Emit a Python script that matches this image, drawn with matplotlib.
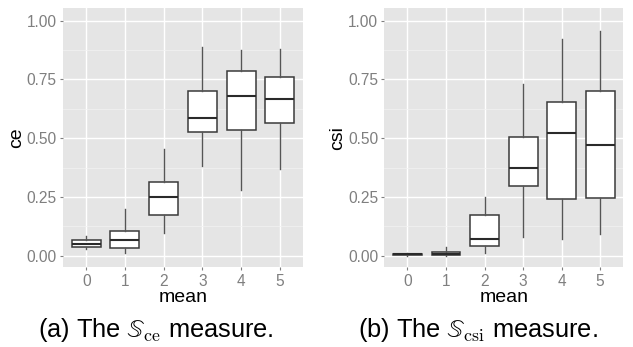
import matplotlib
matplotlib.use("Agg")
import matplotlib.pyplot as plt
from matplotlib.ticker import FixedLocator

# ---- data ----
categories = ["0", "1", "2", "3", "4", "5"]

ce_whislo = [0.027, 0.010, 0.098, 0.383, 0.279, 0.370]
ce_q1     = [0.035, 0.031, 0.172, 0.528, 0.536, 0.563]
ce_med    = [0.048, 0.067, 0.248, 0.586, 0.678, 0.668]
ce_q3     = [0.067, 0.104, 0.315, 0.701, 0.787, 0.762]
ce_whishi = [0.084, 0.199, 0.454, 0.889, 0.875, 0.879]

csi_whislo = [0.000, 0.000, 0.013, 0.081, 0.070, 0.092]
csi_q1     = [0.002, 0.001, 0.041, 0.296, 0.240, 0.245]
csi_med    = [0.005, 0.007, 0.070, 0.372, 0.521, 0.470]
csi_q3     = [0.008, 0.017, 0.172, 0.506, 0.654, 0.699]
csi_whishi = [0.012, 0.035, 0.248, 0.729, 0.922, 0.957]

yticks = [0.0, 0.25, 0.5, 0.75, 1.0]
ytick_labels = ["0.00", "0.25", "0.50", "0.75", "1.00"]

W, H = 633, 347
fig = plt.figure(figsize=(W / 100, H / 100), dpi=100)
FONT = "Liberation Sans"

def px_axes(x0, x1, ytop, ybot):
    return fig.add_axes([x0 / W, 1 - ybot / H, (x1 - x0) / W, (ybot - ytop) / H])

def draw(ax, lo, q1, med, q3, hi, ylabel):
    stats = []
    for i, c in enumerate(categories):
        stats.append(dict(label=c, whislo=lo[i], q1=q1[i], med=med[i], q3=q3[i],
                          whishi=hi[i], fliers=[]))
    ax.set_facecolor("#E5E5E5")
    ax.bxp(stats, positions=range(len(categories)), widths=0.75, showcaps=False,
           showfliers=False, patch_artist=True,
           boxprops=dict(facecolor="white", edgecolor="#3a3a3a", linewidth=1.1),
           whiskerprops=dict(color="#555555", linewidth=1.0),
           medianprops=dict(color="#2a2a2a", linewidth=1.5),
           zorder=3)
    ax.set_xlim(-0.6, 5.6)
    ax.set_ylim(-0.05, 1.053)
    ax.set_yticks(yticks)
    ax.set_yticklabels(ytick_labels)
    ax.yaxis.set_minor_locator(FixedLocator([0.125, 0.375, 0.625, 0.875]))
    ax.set_xticks(range(len(categories)))
    ax.set_xticklabels(categories)
    ax.grid(which="major", color="white", linewidth=1.0, zorder=0)
    ax.grid(which="minor", axis="y", color="#F2F2F2", linewidth=0.55, zorder=0)
    ax.set_axisbelow(True)
    for s in ax.spines.values():
        s.set_visible(False)
    ax.tick_params(which="major", length=2.5, width=0.8, color="#7F7F7F",
                   labelcolor="#7F7F7F", labelsize=11.2, pad=2)
    ax.tick_params(which="minor", length=0)
    for lab in ax.get_xticklabels() + ax.get_yticklabels():
        lab.set_fontfamily(FONT)
    ax.set_xlabel("mean", fontsize=14, family=FONT, labelpad=0)
    ax.set_ylabel(ylabel, fontsize=14, family=FONT, labelpad=1)

ax1 = px_axes(63, 303, 8.3, 267.3)
draw(ax1, ce_whislo, ce_q1, ce_med, ce_q3, ce_whishi, "ce")
ax2 = px_axes(384.3, 623.3, 8.3, 267.3)
draw(ax2, csi_whislo, csi_q1, csi_med, csi_q3, csi_whishi, "csi")

fig.text(155.5 / W, 1 - 336.5 / H, r"(a) The $\mathbb{S}_{\mathrm{ce}}$ measure.",
         ha="center", va="baseline", fontsize=18.3, family=FONT, math_fontfamily="cm")
fig.text(478 / W, 1 - 336.5 / H, r"(b) The $\mathbb{S}_{\mathrm{csi}}$ measure.",
         ha="center", va="baseline", fontsize=18.3, family=FONT, math_fontfamily="cm")

fig.savefig("out.png", dpi=100, facecolor="white")
